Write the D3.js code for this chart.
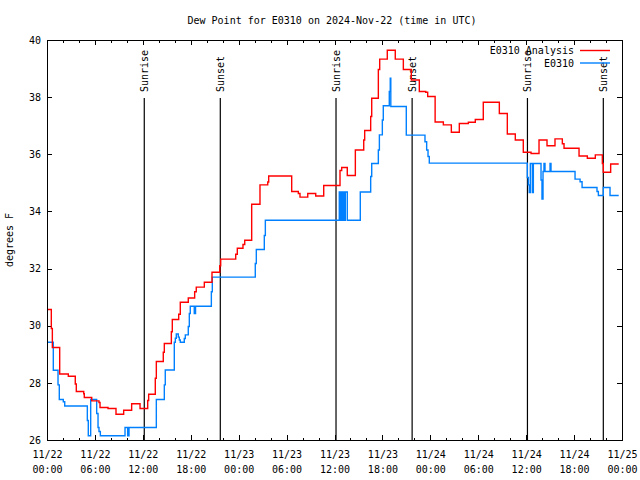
<!DOCTYPE html>
<html>
<head>
<meta charset="utf-8">
<script src="https://cdn.jsdelivr.net/npm/d3@7"></script>
<style>
  html, body { margin: 0; padding: 0; background: #fff; }
  svg { display: block; }
  text { font-family: "DejaVu Sans Mono", monospace; font-size: 10px; fill: #000; }
</style>
</head>
<body>
<svg id="chart" width="640" height="480"></svg>
<script>
// ---- Data (hours since 2024-11-22 00:00 UTC) ----
const titleText = "Dew Point for E0310 on 2024-Nov-22 (time in UTC)";
const yLabel = "degrees F";
const seriesNames = ["E0310 Analysis", "E0310"];

const redHours = [0, 0.54, 0.67, 1.59, 2.67, 3.54, 3.67, 4.6, 4.67, 5.6, 6.51, 6.64, 7.64, 8.64, 9.6, 10.6, 11.65, 12.61, 12.73, 13.56, 13.69, 14.56, 14.69, 15.57, 15.69, 16.49, 16.69, 17.69, 18.49, 18.69, 19.7, 20.66, 21.63, 21.75, 23.63, 23.83, 24.54, 24.76, 25.63, 26.67, 27.64, 27.76, 30.64, 31.47, 31.68, 32.65, 33.65, 34.65, 36.69, 36.9, 37.6, 38.61, 39.66, 39.78, 40.53, 40.66, 41.49, 41.66, 42.61, 43.61, 44.62, 45.62, 46.62, 47.42, 47.67, 48.6, 49.63, 50.63, 51.63, 52.76, 53.63, 54.63, 56.64, 57.64, 58.64, 59.64, 60.61, 61.61, 62.61, 63.61, 64.53, 64.74, 66.62, 67.66, 68.66, 69.54, 69.66, 70.58, 71.59];
const redValues = [30.57, 29.9, 29.24, 28.31, 28.23, 27.96, 27.7, 27.62, 27.49, 27.37, 27.31, 27.14, 27.1, 26.9, 27.04, 27.27, 27.1, 27.38, 27.6, 28.16, 28.75, 29.07, 29.38, 29.79, 30.22, 30.4, 30.82, 30.97, 31.19, 31.35, 31.52, 31.87, 32.1, 32.33, 32.5, 32.71, 32.84, 32.99, 34.25, 34.93, 35.03, 35.24, 34.7, 34.63, 34.5, 34.63, 34.54, 34.91, 35.43, 35.54, 35.26, 36.15, 36.5, 36.83, 37.32, 37.96, 38.97, 39.33, 39.64, 39.33, 38.97, 38.6, 38.2, 38.17, 38.02, 37.13, 37.03, 36.77, 37.08, 37.12, 37.22, 37.82, 37.43, 36.71, 36.5, 36.07, 36.03, 36.5, 36.3, 36.54, 36.37, 36.21, 35.94, 35.86, 35.98, 35.68, 35.37, 35.66, 35.66];

const blueHours = [0, 0.79, 1.38, 1.54, 2.04, 2.22, 5.05, 5.17, 5.47, 6.22, 6.39, 6.51, 6.68, 9.77, 10.1, 10.27, 13.69, 14.69, 14.81, 15.94, 16.07, 16.19, 16.44, 16.57, 16.69, 17.19, 17.32, 17.69, 17.82, 17.94, 18.44, 18.6, 20.58, 20.7, 26.08, 26.21, 27.21, 27.34, 36.6, 36.73, 36.85, 36.98, 37.1, 37.23, 37.35, 37.6, 39.23, 40.53, 40.66, 41.49, 41.62, 41.99, 42.11, 42.86, 42.98, 43.05, 44.99, 47.33, 47.54, 47.71, 47.87, 60.14, 60.27, 60.39, 60.52, 60.77, 60.9, 61.86, 61.98, 62.11, 62.23, 62.36, 62.99, 63.11, 66.12, 66.75, 67.0, 68.87, 69.04, 69.66, 70.5, 71.59];
const blueValues = [29.42, 28.44, 27.93, 27.42, 27.34, 27.19, 26.68, 26.15, 27.42, 26.93, 26.44, 26.3, 26.15, 26.44, 26.15, 26.44, 27.42, 27.93, 28.45, 29.42, 29.56, 29.71, 29.6, 29.5, 29.42, 29.55, 29.68, 29.97, 30.43, 30.68, 30.43, 30.68, 31.19, 31.7, 32.18, 32.67, 33.16, 33.69, 34.68, 33.69, 34.68, 33.69, 34.68, 33.69, 34.68, 33.69, 34.68, 35.22, 35.68, 36.15, 36.68, 37.2, 37.7, 38.2, 38.66, 37.67, 36.67, 36.44, 36.15, 35.92, 35.69, 35.19, 34.93, 34.66, 35.68, 34.66, 35.68, 35.1, 34.43, 35.4, 35.68, 35.4, 35.68, 35.4, 35.13, 35.04, 34.84, 34.7, 34.56, 34.84, 34.56, 34.56];

const sunHours = [12.18, 21.7, 36.19, 45.72, 60.16, 69.66];
const sunLabels = ["Sunrise", "Sunset", "Sunrise", "Sunset", "Sunrise", "Sunset"];

const yTicks = [26, 28, 30, 32, 34, 36, 38, 40];

// ---- Setup ----
const HOUR = 3600e3;
const t0 = Date.UTC(2024, 10, 22);
const toDate = h => new Date(t0 + h * HOUR);

const svg = d3.select("#chart");
const L = 47, R = 622, T = 40, B = 440;

const x = d3.scaleUtc().domain([toDate(0), toDate(72)]).range([L, R]);
const y = d3.scaleLinear().domain([26, 40]).range([B, T]);

svg.append("clipPath").attr("id", "clip")
  .append("rect").attr("x", L).attr("y", T).attr("width", R - L).attr("height", B - T);

// Title
svg.append("text").attr("x", 332).attr("y", 23.5).attr("text-anchor", "middle").text(titleText);

// Y label
svg.append("text").attr("transform", "translate(13,240) rotate(-90)")
  .attr("text-anchor", "middle").text(yLabel);

// Axes
const majorTimes = d3.range(0, 73, 6).map(toDate);
const minorTimes = d3.range(0, 73, 2).filter(h => h % 6 !== 0).map(toDate);

const fmtDate = d3.utcFormat("%m/%d");
const fmtTime = d3.utcFormat("%H:%M");

const xAxis = svg.append("g").attr("transform", `translate(0,${B})`)
  .call(d3.axisBottom(x).tickValues(majorTimes).tickSize(-5).tickPadding(8).tickFormat(""));
xAxis.selectAll(".tick").append("text")
  .attr("text-anchor", "middle")
  .each(function(d) {
    const t = d3.select(this);
    t.append("tspan").attr("x", 0).attr("y", 18).text(fmtDate(d));
    t.append("tspan").attr("x", 0).attr("y", 32.5).text(fmtTime(d));
  });
svg.append("g").attr("transform", `translate(0,${B})`)
  .call(d3.axisBottom(x).tickValues(minorTimes).tickSize(-2.5).tickFormat(""));
svg.append("g").attr("transform", `translate(0,${T})`)
  .call(d3.axisTop(x).tickValues(majorTimes).tickSize(-5).tickFormat(""));
svg.append("g").attr("transform", `translate(0,${T})`)
  .call(d3.axisTop(x).tickValues(minorTimes).tickSize(-2.5).tickFormat(""));

svg.append("g").attr("transform", `translate(${L},0)`)
  .call(d3.axisLeft(y).tickValues(yTicks).tickSize(-5).tickPadding(6).tickFormat(d3.format("d")));
svg.append("g").attr("transform", `translate(${R},0)`)
  .call(d3.axisRight(y).tickValues(yTicks).tickSize(-5).tickFormat(""));

svg.selectAll(".domain").remove();
svg.selectAll(".tick line").attr("stroke", "#000").attr("shape-rendering", "crispEdges");
svg.selectAll(".tick text").attr("font-family", "DejaVu Sans Mono").attr("font-size", 10).attr("fill", "#000");

// Sunrise / sunset lines
const sun = svg.append("g");
sunHours.forEach((h, i) => {
  const sx = x(toDate(h));
  sun.append("line").attr("x1", sx).attr("x2", sx).attr("y1", 98).attr("y2", B)
    .attr("stroke", "#000").attr("stroke-width", 1.2);
  sun.append("text").attr("transform", `translate(${sx},92) rotate(-90)`)
    .attr("text-anchor", "start").attr("dy", "0.35em").text(sunLabels[i]);
});

// Lines
const line = d3.line().curve(d3.curveStepAfter)
  .x(d => x(toDate(d[0]))).y(d => y(d[1]));

const redData = redHours.map((h, i) => [h, redValues[i]]);
const blueData = blueHours.map((h, i) => [h, blueValues[i]]);

const plot = svg.append("g").attr("clip-path", "url(#clip)");
plot.append("path").datum(blueData).attr("d", line)
  .attr("fill", "none").attr("stroke", "#0080ff").attr("stroke-width", 1.4);
plot.append("path").datum(redData).attr("d", line)
  .attr("fill", "none").attr("stroke", "#ff0000").attr("stroke-width", 1.4);

// Border
svg.append("rect").attr("x", L).attr("y", T).attr("width", R - L).attr("height", B - T)
  .attr("fill", "none").attr("stroke", "#000").attr("stroke-width", 1)
  .attr("shape-rendering", "crispEdges");

// Legend
const legColors = ["#ff0000", "#0080ff"];
seriesNames.forEach((name, i) => {
  const ly = 50.5 + i * 12.5;
  svg.append("text").attr("x", 574).attr("y", ly).attr("dy", "0.35em")
    .attr("text-anchor", "end").text(name);
  svg.append("line").attr("x1", 580).attr("x2", 610).attr("y1", ly).attr("y2", ly)
    .attr("stroke", legColors[i]).attr("stroke-width", 1.4);
});
</script>
</body>
</html>
